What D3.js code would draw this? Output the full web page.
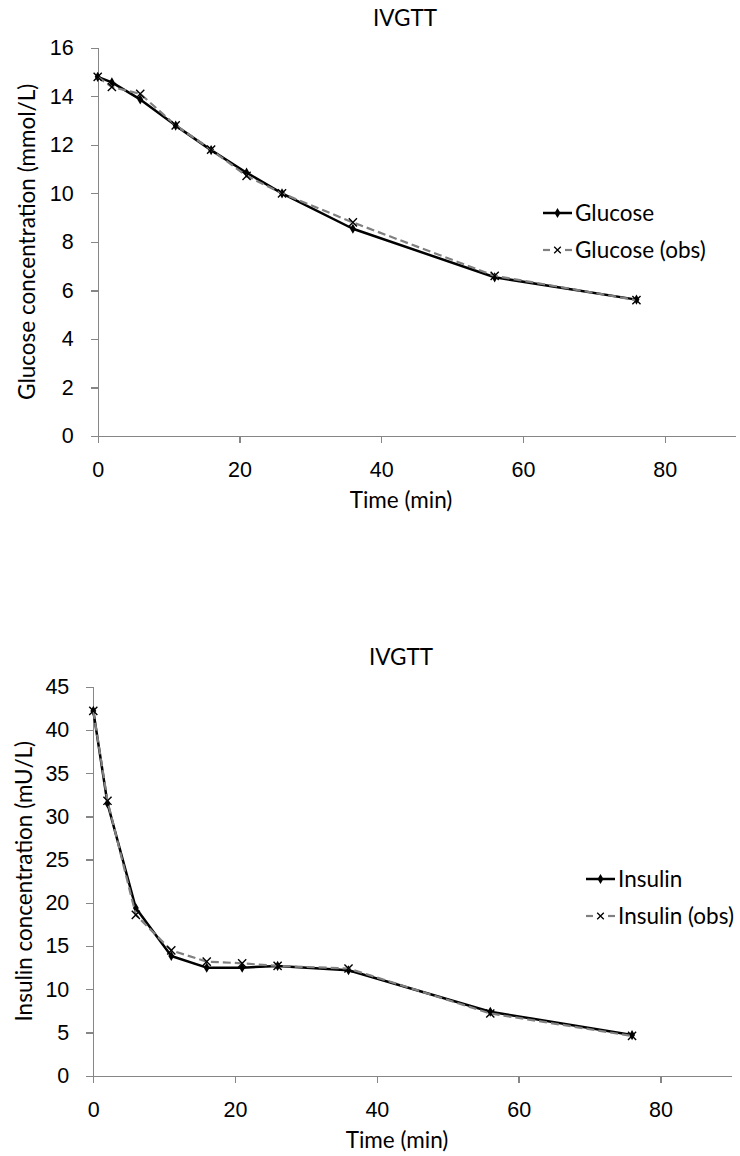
<!DOCTYPE html>
<html>
<head>
<meta charset="utf-8">
<script src="https://cdn.jsdelivr.net/npm/d3@7"></script>
<style>
  html, body { margin: 0; padding: 0; background: #fff; }
  svg { display: block; font-family: Lato, "Open Sans", sans-serif; }
  .axis path, .axis line { stroke: #868686; stroke-width: 1.3; shape-rendering: crispEdges; }
  .axis text { fill: #000; font-size: 21.5px; }
</style>
</head>
<body>
<svg id="chart" width="740" height="1156"></svg>
<script>
// Sampling times of the intravenous glucose tolerance test (min)
const times = [0, 2, 6, 11, 16, 21, 26, 36, 56, 76];

// Glucose (mmol/L): model and observed
const glucose    = [14.8, 14.57, 13.87, 12.79, 11.78, 10.85, 10.0, 8.54, 6.54, 5.62];
const glucoseObs = [14.8, 14.38, 14.1, 12.8, 11.8, 10.72, 10.0, 8.8, 6.6, 5.6];

// Insulin (mU/L): model and observed
const insulin    = [42.2, 31.5, 19.4, 13.85, 12.5, 12.5, 12.7, 12.2, 7.4, 4.7];
const insulinObs = [42.2, 31.8, 18.6, 14.5, 13.2, 13.0, 12.7, 12.4, 7.2, 4.6];

// Axis ticks
const xTicks = [0, 20, 40, 60, 80];
const glucoseTicks = [0, 2, 4, 6, 8, 10, 12, 14, 16];
const insulinTicks = [0, 5, 10, 15, 20, 25, 30, 35, 40, 45];

const svg = d3.select("#chart");
const FONT = 22.5;

const panels = [
  {
    title: "IVGTT",
    yLabel: "Glucose concentration (mmol/L)",
    xLabel: "Time (min)",
    model: glucose, obs: glucoseObs,
    names: ["Glucose", "Glucose (obs)"],
    yDomain: [0, 16], yTicks: glucoseTicks,
    left: 97.7, right: 735.7, top: 47.7, bottom: 436,
    titleX: 405, yLabelX: 27,
    legendX: 543, legendY: 213
  },
  {
    title: "IVGTT",
    yLabel: "Insulin concentration (mU/L)",
    xLabel: "Time (min)",
    model: insulin, obs: insulinObs,
    names: ["Insulin", "Insulin (obs)"],
    yDomain: [0, 45], yTicks: insulinTicks,
    left: 93.3, right: 731.3, top: 686.7, bottom: 1075.7,
    titleX: 401, yLabelX: 24,
    legendX: 586, legendY: 879
  }
];

const diamond = d3.symbol().type(d3.symbolDiamond).size(30);
const cross = d3.symbol().type(d3.symbolX).size(45);

panels.forEach(p => {
  const x = d3.scaleLinear().domain([0, 90]).range([p.left, p.right]);
  const y = d3.scaleLinear().domain(p.yDomain).range([p.bottom, p.top]);
  const g = svg.append("g");

  // Axes
  g.append("g")
    .attr("class", "axis")
    .attr("transform", `translate(0,${p.bottom})`)
    .call(d3.axisBottom(x).tickValues(xTicks).tickSize(7).tickSizeOuter(0).tickPadding(19));

  g.append("g")
    .attr("class", "axis")
    .attr("transform", `translate(${p.left},0)`)
    .call(d3.axisLeft(y).tickValues(p.yTicks).tickSize(7).tickSizeOuter(0).tickPadding(17));

  // Titles
  g.append("text")
    .attr("x", p.titleX).attr("y", p.top - 22)
    .attr("text-anchor", "middle")
    .attr("font-size", FONT)
    .text(p.title);

  g.append("text")
    .attr("x", p.titleX - 4).attr("y", p.bottom + 64)
    .attr("dy", "0.35em")
    .attr("text-anchor", "middle")
    .attr("font-size", FONT)
    .text(p.xLabel);

  g.append("text")
    .attr("transform", `translate(${p.yLabelX},${(p.top + p.bottom) / 2}) rotate(-90)`)
    .attr("text-anchor", "middle")
    .attr("dy", "0.35em")
    .attr("font-size", FONT)
    .text(p.yLabel);

  const line = d3.line().x((d, i) => x(times[i])).y(d => y(d));

  // Model series: solid black with diamonds
  g.append("path")
    .datum(p.model)
    .attr("fill", "none")
    .attr("stroke", "#000")
    .attr("stroke-width", 2.5)
    .attr("stroke-linejoin", "round")
    .attr("d", line);

  g.selectAll(".dm")
    .data(p.model)
    .join("path")
    .attr("transform", (d, i) => `translate(${x(times[i])},${y(d)})`)
    .attr("d", diamond)
    .attr("fill", "#000");

  // Observed series: dashed grey with crosses
  g.append("path")
    .datum(p.obs)
    .attr("fill", "none")
    .attr("stroke", "#808080")
    .attr("stroke-width", 2.2)
    .attr("stroke-dasharray", "8,4")
    .attr("d", line);

  g.selectAll(".xm")
    .data(p.obs)
    .join("path")
    .attr("transform", (d, i) => `translate(${x(times[i])},${y(d)})`)
    .attr("d", cross)
    .attr("fill", "none")
    .attr("stroke", "#000")
    .attr("stroke-width", 1.4);

  // Legend
  const lg = g.append("g").attr("transform", `translate(${p.legendX},${p.legendY})`);
  lg.append("line")
    .attr("x1", 0).attr("x2", 29).attr("y1", 0).attr("y2", 0)
    .attr("stroke", "#000").attr("stroke-width", 2.5);
  lg.append("path").attr("transform", "translate(14.5,0)").attr("d", diamond).attr("fill", "#000");
  lg.append("text").attr("x", 32).attr("y", 0).attr("dy", "0.35em")
    .attr("font-size", FONT).text(p.names[0]);

  lg.append("line")
    .attr("x1", 0).attr("x2", 7).attr("y1", 37).attr("y2", 37)
    .attr("stroke", "#808080").attr("stroke-width", 2.2);
  lg.append("line")
    .attr("x1", 22).attr("x2", 29).attr("y1", 37).attr("y2", 37)
    .attr("stroke", "#808080").attr("stroke-width", 2.2);
  lg.append("path").attr("transform", "translate(14.5,37)")
    .attr("d", d3.symbol().type(d3.symbolX).size(30))
    .attr("fill", "none").attr("stroke", "#000").attr("stroke-width", 1.3);
  lg.append("text").attr("x", 32).attr("y", 37).attr("dy", "0.35em")
    .attr("font-size", FONT).text(p.names[1]);
});
</script>
</body>
</html>
